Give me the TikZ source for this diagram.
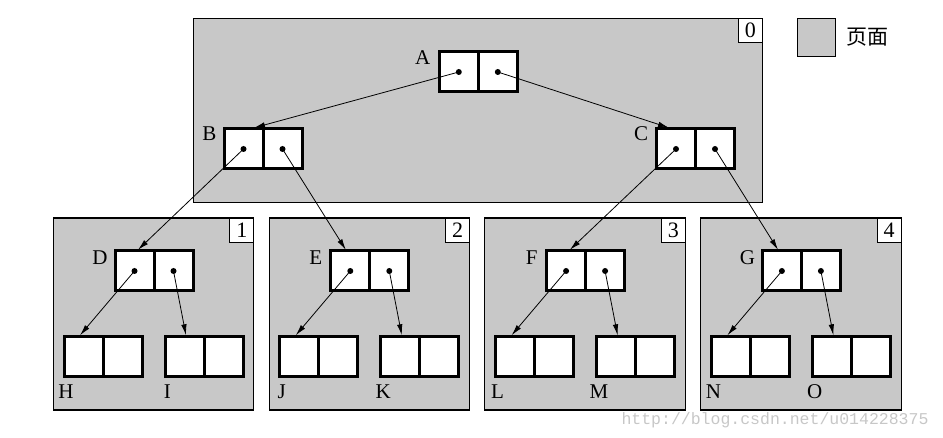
\documentclass[tikz,border=0pt]{standalone}
\usepackage{fontspec}
\setmainfont{Liberation Serif}
\newfontfamily\cjk{Noto Sans CJK SC}
\newfontfamily\wmfont{Liberation Mono}
\usetikzlibrary{arrows.meta,calc}
\definecolor{pagegray}{RGB}{200,200,200}
\tikzset{
  page/.style={draw=black,line width=1.1pt,fill=pagegray},
  pagenum/.style={draw=black,line width=0.9pt,fill=white,minimum size=24pt,inner sep=0pt,outer sep=0pt,font=\fontsize{22}{22}\selectfont,anchor=north east},
  cell/.style={draw=black,line width=3pt,fill=white,minimum width=39pt,minimum height=40pt,inner sep=0pt,outer sep=0pt},
  ptr/.style={line width=0.8pt,-{Latex[length=11pt,width=5.5pt]}},
  ptrdot/.style={circle,fill=black,inner sep=0pt,minimum size=6pt},
  lbl/.style={font=\fontsize{21}{21}\selectfont,inner sep=0pt},
}
\newcommand{\myrecord}[3]{%
  \node[cell,anchor=east] (#1-l) at (#2,#3) {};
  \node[cell,anchor=west] (#1-r) at (#2,#3) {};}
\begin{document}
\begin{tikzpicture}[x=1pt,y=-1pt]
\useasboundingbox (0,0) rectangle (943,438);
% watermark
\node[font=\wmfont\fontsize{16.5}{16.5}\selectfont,text=black!22,inner sep=0pt] (wm) at (775,420) {http://blog.csdn.net/u014228375};
% legend
\node[page,minimum size=38pt,inner sep=0pt,outer sep=0pt,anchor=north west] (leg) at (797.3,18.3) {};
\node[font=\cjk\fontsize{21}{21}\selectfont,inner sep=0pt] (legtxt) at (867,37) {页面};
% page 0
\node[page,inner sep=0pt,outer sep=0pt,anchor=north west,minimum width=569pt,minimum height=184.4pt] (p0) at (193.3,18.3) {};
\node[pagenum] (n0) at (p0.north east) {0};
% pages 1-4
\foreach \k/\L in {1/53.3,2/269.1,3/484.9,4/700.7}{
  \node[page,inner sep=0pt,outer sep=0pt,anchor=north west,minimum width=200.5pt,minimum height=192pt] (p\k) at (\L,218) {};
  \node[pagenum] (n\k) at (p\k.north east) {\k};
}
% top-level records
\myrecord{A}{478.3}{72}
\myrecord{B}{263}{149}
\myrecord{C}{695.5}{149}
\node[lbl] (lA) at (422.7,57.3) {A};
\node[lbl] (lB) at (209.3,134) {B};
\node[lbl] (lC) at (641,134) {C};
% lower records
\foreach \k/\L/\up/\lo/\lr in {1/53.3/D/H/I,2/269.1/E/J/K,3/484.9/F/L/M,4/700.7/G/N/O}{
  \myrecord{\up}{\L+100.7}{271}
  \myrecord{\lo}{\L+49.7}{356.5}
  \myrecord{\lr}{\L+150.7}{356.5}
  \node[lbl] (l\up) at (\L+46.7,258) {\up};
  \node[lbl] (l\lo) at (\L+12.7,391.5) {\lo};
  \node[lbl] (l\lr) at (\L+114,391.5) {\lr};
}
% dots
\foreach \r in {A,B,C,D,E,F,G}{
  \node[ptrdot] (\r-ld) at (\r-l.center) {};
  \node[ptrdot] (\r-rd) at (\r-r.center) {};
}
% pointers
\draw[ptr] (A-ld.center) -- ([xshift=30pt,yshift=1.2pt]B-l.north west);
\draw[ptr] (A-rd.center) -- ([xshift=12.5pt,yshift=1.2pt]C-l.north west);
\draw[ptr] (B-ld.center) -- ([xshift=23pt,yshift=1.2pt]D-l.north west);
\draw[ptr] (B-rd.center) -- ([xshift=15pt,yshift=1.2pt]E-l.north west);
\draw[ptr] (C-ld.center) -- ([xshift=23.3pt,yshift=1.2pt]F-l.north west);
\draw[ptr] (C-rd.center) -- ([xshift=15.6pt,yshift=1.2pt]G-l.north west);
\foreach \up/\lo/\lr in {D/H/I,E/J/K,F/L/M,G/N/O}{
  \draw[ptr] (\up-ld.center) -- ([xshift=16pt,yshift=1.2pt]\lo-l.north west);
  \draw[ptr] (\up-rd.center) -- ([xshift=21pt,yshift=1.2pt]\lr-l.north west);
}
\end{tikzpicture}
\end{document}
